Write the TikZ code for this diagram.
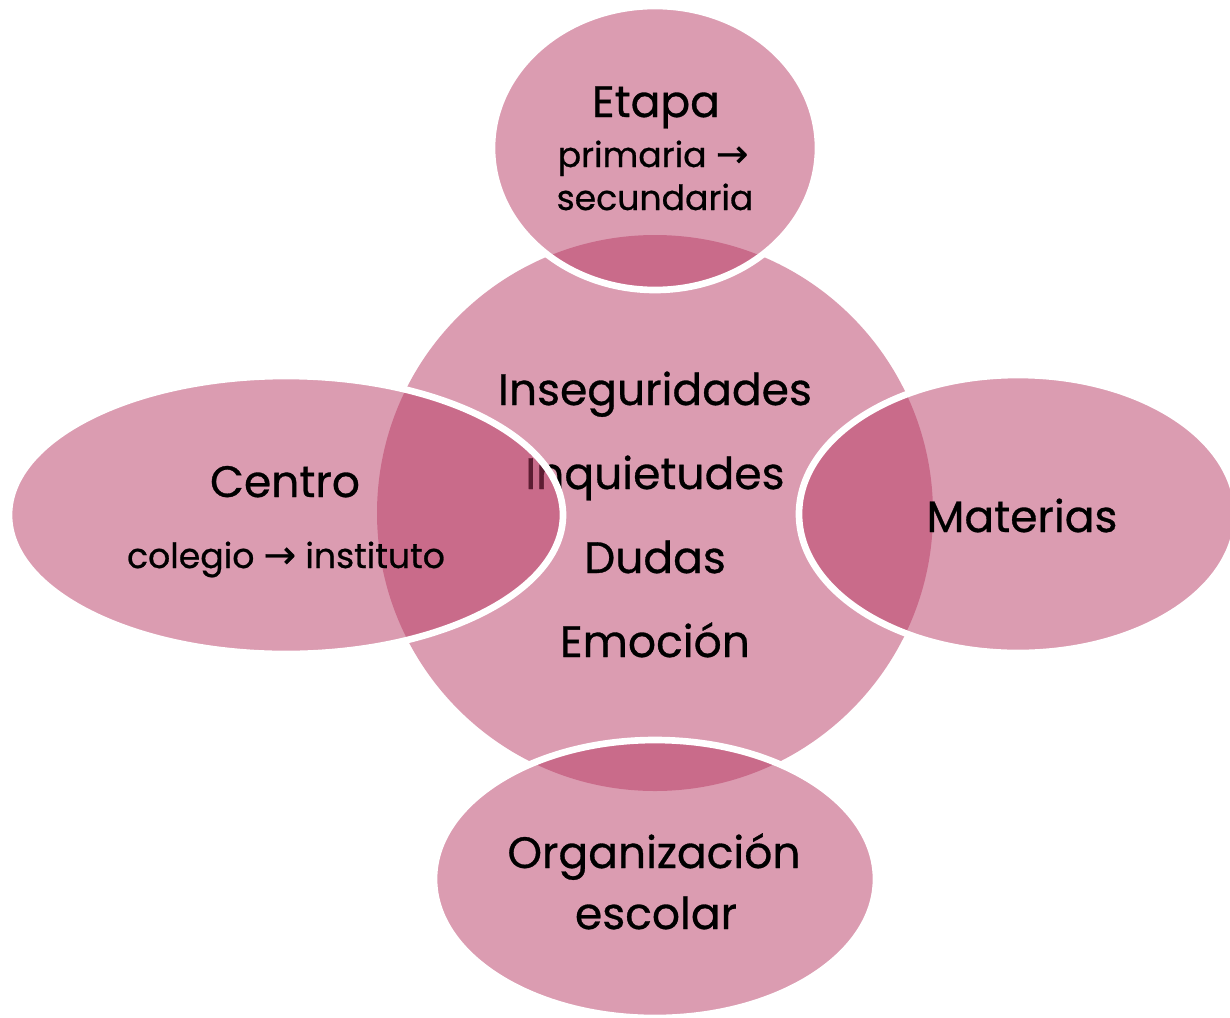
\documentclass[tikz,border=0pt]{standalone}
\usepackage{fontspec}
\setmainfont{Poppins}[UprightFeatures={FakeBold=0.7}]
\newfontfamily\arrowfont{DejaVu Sans}[FakeBold=1]
\usetikzlibrary{shapes.geometric}
\definecolor{petal}{RGB}{185,59,101}
\newcommand{\rarr}{{\arrowfont\fontsize{29}{30}\selectfont →}}
\tikzset{
  hub/.style={circle, fill=petal, fill opacity=0.5, draw=none, inner sep=0pt, outer sep=0pt},
  petalbox/.style={ellipse, fill=petal, fill opacity=0.5, draw=white, draw opacity=1, line width=5pt, inner sep=0pt, outer sep=0pt},
  bigtxt/.style={anchor=base, inner sep=0pt, font=\fontsize{33}{40}\selectfont},
  smalltxt/.style={anchor=base, inner sep=0pt, font=\fontsize{26}{30}\selectfont}
}
\begin{document}
\begin{tikzpicture}[x=0.75pt,y=-0.75pt]
\useasboundingbox[fill=white] (0,0) rectangle (1230,1017);
% central circle
\node[hub, minimum size=417pt] (hubc) at (655,513) {};
\node[bigtxt] (t1) at (655,405) {Inseguridades};
\node[bigtxt] (t2) at (655,489) {Inquietudes};
\node[bigtxt] (t3) at (655,573) {Dudas};
\node[bigtxt] (t4) at (655,657) {Emoción};
% satellites
\node[petalbox, minimum width=244.5pt, minimum height=213pt] (etapa) at (655,148) {};
\node[petalbox, minimum width=415.5pt, minimum height=208.5pt] (centro) at (286,515) {};
\node[petalbox, minimum width=328.5pt, minimum height=208.5pt] (materias) at (1018,514) {};
\node[petalbox, minimum width=331.5pt, minimum height=208.5pt] (organ) at (655,879) {};
% satellite texts
\node[bigtxt] (etapa1) at (656,117) {Etapa};
\node[smalltxt] (etapa2) at (653,167) {primaria \rarr};
\node[smalltxt] (etapa3) at (655,210) {secundaria};
\node[bigtxt] (centro1) at (285,497) {Centro};
\node[smalltxt] (centro2) at (286,568) {colegio \rarr{} instituto};
\node[bigtxt] (materias1) at (1022,532) {Materias};
\node[bigtxt] (organ1) at (654,868) {Organización};
\node[bigtxt] (organ2) at (656,929) {escolar};
\end{tikzpicture}
\end{document}
